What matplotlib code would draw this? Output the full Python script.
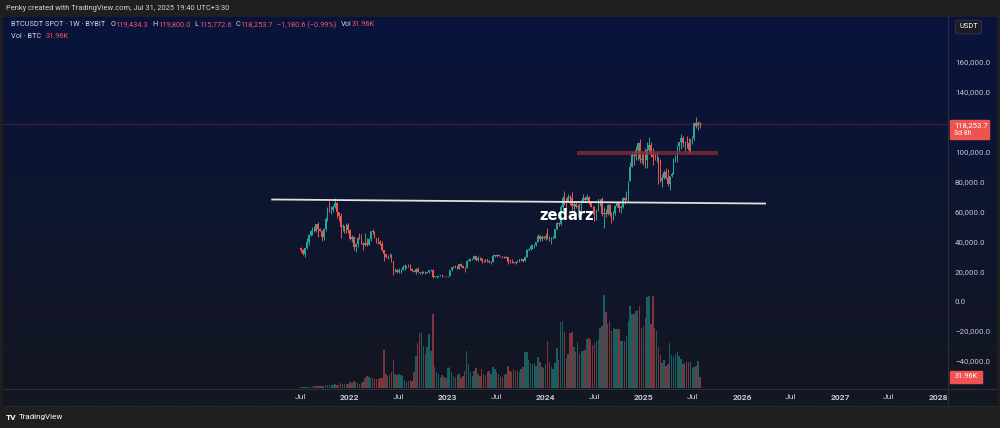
import numpy as np
import pandas as pd
import matplotlib
matplotlib.use('Agg')
import matplotlib.pyplot as plt
import matplotlib.dates as mdates
from matplotlib.patches import Rectangle
from matplotlib.lines import Line2D

plt.rcParams['font.family'] = ['Roboto', 'DejaVu Sans']

# weekly BTCUSDT candles (Bybit spot), first candle = week of 2021-07-05
first_week = '2021-07-05'
first_open = 35300
closes = [
    # 2021
    34250, 31780, 35400, 39850, 44400, 47100, 48900, 47000, 51750, 48300, 47250, 43200, 48200,
    54700, 61500, 61300, 61300, 63300, 65500, 59700, 57300, 49400, 50100, 46700, 50800, 47300,
    # 2022
    41900, 43100, 36300, 38500, 42400, 42200, 38400, 37700, 38800, 37800, 41300, 46800, 46400,
    42200, 40400, 39500, 38500, 34300, 31300, 29400, 29400, 29900, 26600, 20600, 21000, 19300,
    20800, 20800, 22600, 23300, 23200, 24300, 21500, 20300, 19800, 21800, 19400, 18800, 19300,
    19400, 19200, 19600, 20600, 21100, 16300, 16300, 16500, 17100, 17100, 16800, 16800, 16600,
    # 2023
    17100, 20900, 22700, 23700, 23300, 21800, 24600, 23500, 22400, 22100, 26900, 27500, 28200,
    28300, 30300, 27600, 29200, 28800, 26800, 26700, 28100, 27100, 25900, 26300, 30500, 30600,
    30300, 30300, 30100, 29300, 29100, 29400, 26100, 26000, 25900, 25800, 26500, 26300, 27900,
    27900, 27000, 29900, 34500, 35000, 37000, 37400, 37400, 39400, 43800, 41400, 43000, 42200,
    # 2024
    43900, 41700, 41600, 42000, 42600, 48300, 52100, 51700, 63100, 68900, 68400, 67200, 69600,
    69300, 63900, 64900, 63100, 63900, 60800, 66900, 69300, 67800, 69600, 66200, 63200, 62700,
    55800, 60800, 68200, 68300, 58100, 58700, 58400, 64200, 58000, 54800, 59200, 63600, 65600,
    62000, 62900, 69000, 67900, 68700, 80400, 89800, 97900, 97400, 101000, 106000, 95200, 94200, 98300,
    # 2025
    94500, 101300, 104700, 97700, 96500, 96100, 96300, 94200, 80700, 82600, 86100, 82500, 78400,
    83700, 85100, 93700, 94300, 104100, 106500, 109000, 105700, 105700, 105600, 100900, 108400,
    109200, 119100, 117300, 119434.3, 118253.7,
]
highs = [
    35950, 34650, 35400, 42600, 44700, 47900, 49300, 50500, 51900, 52900, 48800, 47300, 49200,
    56600, 62900, 67000, 63700, 64300, 69000, 66300, 59300, 59200, 51900, 50100, 52000, 52100,
    47600, 44400, 43500, 38900, 42700, 45800, 44800, 39800, 45400, 42600, 42300, 47200, 48200,
    47200, 42400, 42900, 40800, 40000, 34500, 31400, 30600, 32200, 31700, 26900, 21900, 21500,
    22500, 21600, 24300, 24700, 23600, 25200, 25100, 21900, 20600, 21900, 22800, 19700, 20400,
    20500, 19900, 19700, 21000, 21400, 21400, 17200, 16900, 17400, 17400, 18400, 17100, 16900,
    17200, 21100, 23000, 23800, 24200, 23400, 25200, 25300, 23900, 22600, 27800, 28800, 29200,
    28800, 31000, 30500, 30000, 29800, 29200, 27600, 28400, 28400, 27400, 26800, 31400, 31000,
    31500, 31800, 30400, 30100, 30000, 30200, 29700, 28100, 28100, 26100, 26900, 27500, 28000,
    28600, 28000, 30300, 35200, 35900, 38000, 37900, 38400, 39700, 44700, 44000, 44300, 43800,
    45900, 49000, 43600, 42800, 43900, 48600, 52800, 52900, 64000, 70200, 73800, 68900, 71600,
    71300, 72800, 66900, 67200, 64700, 65500, 67700, 71900, 70600, 72000, 70200, 66900, 63400,
    63800, 61400, 68400, 68500, 70000, 62700, 61800, 65000, 64900, 59800, 60600, 64100, 66500,
    65600, 64400, 69400, 69500, 73600, 80500, 93400, 99600, 98800, 104000, 106600, 108300, 99900, 99000,
    102700, 106400, 109600, 106500, 102500, 99500, 99500, 96500, 95000, 85300, 87400, 88800, 88500,
    84000, 86500, 95700, 97900, 104300, 105800, 111900, 110700, 106800, 110500, 108900, 108500,
    110500, 119500, 123200, 120200, 119800,
]
lows = [
    32900, 31100, 29300, 35200, 37500, 43300, 43950, 46300, 46500, 42800, 46700, 40200, 40800,
    47100, 53900, 59500, 58000, 59400, 62300, 55600, 53300, 42000, 46800, 45600, 45500, 45700,
    40600, 39700, 34000, 32900, 36200, 41700, 38000, 34300, 37200, 37200, 37600, 40500, 45200,
    42100, 39200, 38500, 37600, 33700, 26700, 28700, 28000, 29300, 26500, 17600, 19600, 18800,
    19000, 18900, 20700, 20700, 22400, 22700, 20800, 19900, 19600, 18500, 19300, 18100, 18500,
    19100, 18200, 18900, 19200, 20000, 15600, 16200, 15500, 16000, 16800, 16500, 16400, 16400,
    16500, 17100, 20400, 22300, 22500, 21400, 21400, 23200, 21900, 19600, 21900, 26600, 26600,
    27300, 28200, 27100, 27000, 27700, 25800, 26300, 25900, 26500, 25400, 24800, 26300, 29500,
    29700, 30000, 29600, 28900, 28600, 28700, 25200, 25800, 25600, 25300, 24900, 26000, 25900,
    27200, 26500, 26900, 29700, 33400, 34500, 34800, 35600, 36800, 39400, 40200, 40500, 41300,
    40800, 41500, 40300, 38500, 41800, 42300, 47700, 50600, 50900, 59000, 64600, 60800, 66500,
    64500, 60700, 59600, 62400, 56500, 60200, 60600, 66300, 66600, 67600, 65100, 63400, 58400,
    53500, 54300, 60600, 63500, 57100, 49000, 56100, 57800, 57200, 52500, 54600, 57500, 62700,
    59800, 58900, 62400, 65100, 67500, 66800, 80200, 89400, 90800, 94600, 94200, 92200, 92600, 91300,
    89200, 89300, 99600, 96200, 91200, 94100, 93400, 78200, 80000, 76600, 81500, 81600, 77100,
    74500, 83000, 86400, 92800, 93400, 100700, 102000, 103100, 100400, 102700, 98200, 99800,
    105300, 107500, 115700, 114700, 115772.6,
]
# weekly volume, thousand BTC
volumes_k = [
    3, 3, 3, 4, 4, 4, 5, 5, 6, 6, 6, 7, 7, 8, 9, 9, 8, 9, 11, 10, 10, 14, 12, 11, 11, 12,
    16, 15, 20, 17, 14, 13, 15, 17, 30, 35, 33, 30, 28, 26, 27, 26, 28, 30,
    110, 40, 36, 38, 45, 81, 40, 38, 42, 38, 36, 22, 18, 20, 22, 19, 45, 93, 130, 160, 162,
    122, 99, 120, 157, 107, 215, 60, 45, 40, 30, 38, 32, 28,
    58, 60, 45, 35, 32, 38, 40, 30, 35, 50, 107, 70, 45, 35, 48, 58, 42, 35, 55, 40, 38, 45,
    50, 42, 60, 55, 45, 40, 35, 32, 38, 40, 65, 50, 45, 55, 48, 50, 45, 55, 62, 104, 104, 80,
    72, 70, 72, 65, 90, 75, 62, 58,
    70, 136, 75, 60, 55, 72, 116, 80, 191, 195, 162, 87, 100, 160, 163, 120, 105, 133, 100,
    107, 107, 110, 142, 145, 140, 125, 130, 136, 140, 175, 180, 270, 220, 185, 194, 165, 174,
    172, 170, 171, 136, 135, 136, 150, 194, 238, 215, 215, 223, 226, 238, 174, 180,
    203, 264, 267, 186, 267, 174, 165, 119, 96, 72, 80, 65, 70, 130, 96, 90, 98, 105, 92, 85,
    70, 72, 75, 76, 74, 58, 60, 65, 78, 32,
]
assert len(closes) == len(highs) == len(lows) == len(volumes_k)

price_ticks = [160000, 140000, 100000, 80000, 60000, 40000, 20000, 0, -20000, -40000]
time_ticks = ['2021-07-01', '2022-01-01', '2022-07-01', '2023-01-01', '2023-07-01', '2024-01-01',
              '2024-07-01', '2025-01-01', '2025-07-01', '2026-01-01', '2026-07-01', '2027-01-01',
              '2027-07-01', '2028-01-01']
time_labels = ['Jul', '2022', 'Jul', '2023', 'Jul', '2024', 'Jul', '2025', 'Jul', '2026',
               'Jul', '2027', 'Jul', '2028']

# drawings on the chart
trend_dates = ['2021-03-19', '2026-03-28']
trend_prices = [68000, 65300]
zone_dates = ['2024-04-25', '2025-10-05']
zone_prices = [98000, 100700]
last_price = 118253.7

W, H = 1000, 428
def rect(x0, y0, x1, y1):
    return [x0 / W, 1 - y1 / H, (x1 - x0) / W, (y1 - y0) / H]

def fx(px):
    return px / W

def fy(py):
    return 1 - py / H

fig = plt.figure(figsize=(10, 4.28), dpi=100, facecolor='#1f1f1f')

# time axis strip
fig.add_artist(Rectangle((fx(3), fy(405)), fx(994), 17 / H, transform=fig.transFigure,
                         color='#131722', zorder=-1))

# gradient background of the pane + price scale
bg = fig.add_axes(rect(3, 17, 997, 388))
top = np.array([0.035, 0.078, 0.24])
bot = np.array([0.075, 0.088, 0.135])
t = np.linspace(0, 1, 256)[:, None]
grad = (top * (1 - t) + bot * t)[:, None, :]
bg.imshow(grad, aspect='auto', extent=[0, 1, 0, 1])
bg.axis('off')
bg.set_zorder(0)

ax = fig.add_axes(rect(3, 17, 948, 388))
axv = fig.add_axes(rect(3, 17, 948, 388), sharex=ax)
axv.set_zorder(1)
ax.set_zorder(2)
ax.patch.set_visible(False)
axv.patch.set_visible(False)

weeks = pd.date_range(first_week, periods=len(closes), freq='7D')
x = mdates.date2num(weeks.to_pydatetime())
c = np.array(closes, float)
o = np.r_[first_open, c[:-1]]
up = c >= o
hi = np.maximum(highs, np.maximum(o, c))
lo = np.minimum(lows, np.minimum(o, c))
cols = np.where(up, '#26a69a', '#ef5350')

# volume
axv.bar(x, volumes_k, width=5.4, color=cols, alpha=0.5, lw=0)
axv.set_ylim(0, 1076)
axv.axis('off')

# candles
ax.vlines(x, lo, hi, colors=cols, lw=0.7, zorder=3)
ax.bar(x, np.maximum(np.abs(c - o), 300), bottom=np.minimum(o, c), width=5.4,
       color=cols, lw=0, zorder=3)

# trend line and resistance zone
ax.plot(mdates.datestr2num(trend_dates), trend_prices, color='#e0e0e0', lw=1.3, zorder=4)
zx = mdates.datestr2num(zone_dates)
ax.add_patch(Rectangle((zx[0], zone_prices[0]), zx[1] - zx[0], zone_prices[1] - zone_prices[0],
                       facecolor='#8c2b36', alpha=0.75, lw=0, zorder=4))
ax.axhline(last_price, color='#ef5350', lw=0.6, ls=(0, (1, 2)), alpha=0.8, zorder=2)

ax.set_xlim(mdates.datestr2num('2018-06-21'), mdates.datestr2num('2028-02-07'))
ax.set_ylim(-58000, 190000)
for s in ax.spines.values():
    s.set_visible(False)
ax.yaxis.tick_right()
ax.set_yticks(price_ticks)
ax.set_yticklabels([f'{v:,.1f}'.replace('-', '\u2212') for v in price_ticks])
ax.tick_params(axis='y', length=0, pad=5, labelsize=5.7, labelcolor='#c3c6ce')
ax.set_xticks(mdates.datestr2num(time_ticks))
ax.set_xticklabels(time_labels)
ax.tick_params(axis='x', length=0, pad=4, labelsize=6.1, labelcolor='#c3c6ce')
for lab in ax.get_xticklabels():
    if lab.get_text() != 'Jul':
        lab.set_fontweight('bold')

# separators
fig.add_artist(Line2D([fx(948), fx(948)], [fy(17), fy(405)], color='#2a2e39', lw=0.8))
fig.add_artist(Line2D([fx(3), fx(997)], [fy(388.5), fy(388.5)], color='#2a2e39', lw=0.8))
fig.add_artist(Line2D([fx(3), fx(997)], [fy(405.5), fy(405.5)], color='#363a45', lw=0.6,
                      ls=(0, (1, 1))))

# header
fig.text(fx(6), fy(8), 'Penky created with TradingView.com, Jul 31, 2025 19:40 UTC+3:30',
         color='#d1d4dc', fontsize=5.4, va='center')

light, red = '#d1d4dc', '#f7525f'
def text_run(x_px, y_px, pieces, size):
    r = fig.canvas.get_renderer()
    xp = x_px
    for s, col, gap in pieces:
        tt = fig.text(fx(xp), fy(y_px), s, color=col, fontsize=size, va='center', ha='left')
        xp += tt.get_window_extent(renderer=r).width + gap

text_run(11, 25, [('BTCUSDT SPOT · 1W · BYBIT', light, 5),
                  ('O', light, 0.5), ('119,434.3', red, 4),
                  ('H', light, 0.5), ('119,800.0', red, 4),
                  ('L', light, 0.5), ('115,772.6', red, 4),
                  ('C', light, 0.5), ('118,253.7', red, 4),
                  ('\u22121,180.6 (\u22120.99%)', red, 4),
                  ('Vol', light, 0.5), ('31.96K', red, 0)], 5.3)
text_run(11, 36, [('Vol · BTC', light, 5), ('31.96K', red, 0)], 5.3)

# watermark
fig.text(fx(567), fy(216), 'zedarz', color='white', fontsize=10.5, fontweight='bold',
         ha='center', va='center', family='DejaVu Sans')

# price scale badges
fig.text(fx(968.5), fy(27), 'USDT', color='white', fontsize=5.4, ha='center', va='center',
         bbox=dict(boxstyle='round,pad=0.45,rounding_size=0.3', fc='#1c1c22', ec='#3b3b44', lw=0.6))
fig.add_artist(Rectangle((fx(950), fy(139)), 39 / W, 19 / H, transform=fig.transFigure,
                         color='#ef5350', zorder=5))
fig.text(fx(954), fy(125), f'{last_price:,.1f}', color='white', fontsize=5.6, va='center', zorder=6)
fig.text(fx(954), fy(133.5), '3d 8h', color='white', fontsize=5.0, va='center', zorder=6)
fig.add_artist(Rectangle((fx(950), fy(383)), 32 / W, 12 / H, transform=fig.transFigure,
                         color='#ef5350', zorder=5))
fig.text(fx(966), fy(377), '31.96K', color='white', fontsize=5.3, ha='center', va='center', zorder=6)

# TradingView logo
fig.text(fx(6), fy(417), 'TV', color='white', fontsize=6, fontweight='bold', va='center')
fig.text(fx(19), fy(417), 'TradingView', color='white', fontsize=5.8, va='center')

fig.savefig('out.png', dpi=100, facecolor=fig.get_facecolor())
